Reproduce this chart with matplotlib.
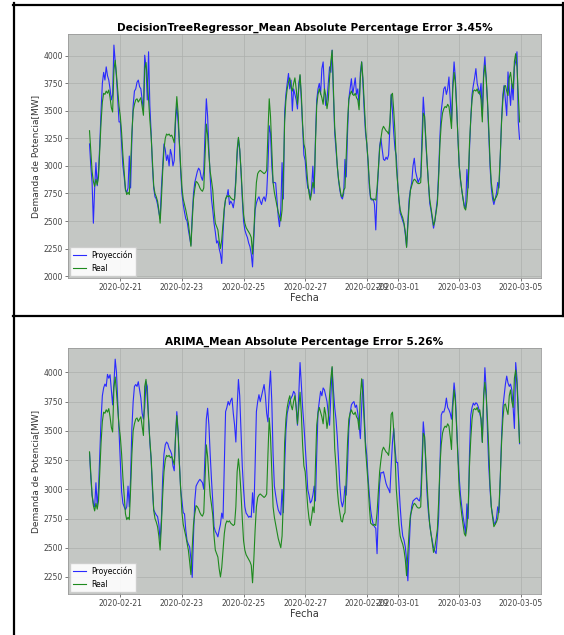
import matplotlib
matplotlib.use('Agg')
import matplotlib.pyplot as plt
import matplotlib.dates as mdates
from matplotlib.lines import Line2D
from matplotlib.ticker import MultipleLocator
import pandas as pd

# datos horarios desde el 2020-02-20 00:00 (una fila por dia)
inicio = '2020-02-20 00:00'

real = [
    3320, 3130, 2950, 2860, 2815, 2880, 2830, 2900, 3150, 3400, 3580, 3660, 3650, 3680, 3660, 3690, 3620, 3530, 3490, 3870, 3960, 3830, 3680, 3540,
    3450, 3300, 3100, 2950, 2790, 2740, 2760, 2740, 3000, 3300, 3500, 3560, 3600, 3610, 3580, 3600, 3620, 3540, 3460, 3880, 3940, 3780, 3600, 3420,
    3270, 3050, 2820, 2750, 2720, 2680, 2600, 2480, 2700, 2950, 3150, 3250, 3290, 3280, 3290, 3270, 3280, 3250, 3210, 3450, 3630, 3480, 3220, 3000,
    2800, 2700, 2650, 2600, 2540, 2480, 2380, 2270, 2500, 2700, 2790, 2860, 2850, 2830, 2800, 2780, 2770, 2800, 3100, 3380, 3280, 3100, 2950, 2870,
    2780, 2600, 2480, 2450, 2420, 2320, 2250, 2330, 2480, 2620, 2700, 2730, 2720, 2730, 2710, 2700, 2690, 2700, 2850, 3150, 3260, 3150, 2970, 2750,
    2560, 2480, 2440, 2420, 2400, 2380, 2350, 2200, 2400, 2650, 2850, 2930, 2950, 2960, 2950, 2940, 2930, 2940, 2960, 3300, 3610, 3450, 3150, 2850,
    2760, 2700, 2640, 2580, 2540, 2500, 2600, 2900, 3400, 3600, 3700, 3760, 3800, 3720, 3680, 3750, 3800, 3700, 3560, 3700, 3830, 3650, 3380, 3200,
    3150, 3000, 2850, 2750, 2690, 2760, 2850, 2800, 3200, 3550, 3650, 3700, 3660, 3620, 3560, 3700, 3640, 3520, 3600, 3800, 3950, 4050, 3700, 3350,
    3200, 3000, 2880, 2800, 2730, 2720, 2780, 2800, 3100, 3400, 3600, 3650, 3680, 3650, 3640, 3660, 3620, 3600, 3510, 3800, 3945, 3800, 3580, 3350,
    3200, 3050, 2850, 2710, 2700, 2690, 2700, 2690, 2800, 2980, 3150, 3250, 3330, 3360, 3340, 3320, 3310, 3290, 3400, 3640, 3660, 3500, 3300, 3000,
    2850, 2700, 2600, 2560, 2530, 2480, 2400, 2260, 2450, 2650, 2780, 2820, 2860, 2880, 2870, 2850, 2840, 2840, 2850, 3150, 3480, 3450, 3250, 3030,
    2850, 2700, 2620, 2540, 2460, 2500, 2580, 2660, 2900, 3200, 3380, 3480, 3520, 3540, 3530, 3560, 3540, 3450, 3340, 3700, 3850, 3750, 3520, 3250,
    3000, 2880, 2780, 2700, 2620, 2600, 2680, 2850, 3200, 3430, 3600, 3680, 3690, 3680, 3700, 3660, 3680, 3600, 3400, 3800, 3915, 3800, 3600, 3350,
    3050, 2850, 2760, 2680, 2700, 2720, 2750, 2850, 3100, 3400, 3600, 3720, 3730, 3680, 3640, 3800, 3850, 3750, 3700, 3950, 4020, 3900, 3650, 3400,
]

proy_arbol = [
    3200, 3000, 2850, 2480, 2800, 3030, 2820, 2950, 3200, 3500, 3750, 3850, 3780, 3900, 3820, 3780, 3700, 3600, 3650, 4098, 3950, 3800, 3600, 3400,
    3400, 3200, 3000, 2900, 2780, 2760, 2800, 3090, 2800, 3250, 3550, 3680, 3700, 3760, 3780, 3720, 3700, 3600, 3500, 4006, 3900, 3600, 4037, 3548,
    3300, 3000, 2800, 2720, 2700, 2650, 2580, 2520, 2800, 3000, 3200, 3150, 3050, 3100, 3000, 3150, 3100, 3000, 3050, 3400, 3548, 3400, 3200, 2950,
    2750, 2650, 2580, 2520, 2500, 2420, 2350, 2280, 2550, 2750, 2850, 2900, 2950, 2980, 2960, 2900, 2870, 2950, 3300, 3610, 3450, 3150, 2900, 2700,
    2600, 2480, 2400, 2300, 2320, 2250, 2200, 2114, 2400, 2600, 2700, 2720, 2785, 2650, 2680, 2660, 2620, 2700, 2900, 3100, 3250, 3150, 2950, 2700,
    2500, 2420, 2380, 2350, 2300, 2266, 2200, 2083, 2350, 2600, 2663, 2700, 2720, 2680, 2650, 2700, 2720, 2680, 2750, 3000, 3365, 3300, 3000, 2846,
    2850, 2846, 2700, 2541, 2449, 2600, 3030, 2700, 3487, 3650, 3750, 3840, 3700, 3780, 3500, 3700, 3650, 3600, 3518, 3750, 3820, 3600, 3350, 3100,
    3050, 2900, 2800, 2785, 2700, 2800, 2998, 2750, 3250, 3600, 3700, 3750, 3650, 3884, 3945, 3700, 3550, 3600, 3750, 3900, 3850, 4052, 3650, 3300,
    3150, 3000, 2870, 2780, 2720, 2700, 2750, 3060, 2900, 3300, 3610, 3700, 3792, 3650, 3720, 3800, 3650, 3700, 3550, 3850, 3945, 3750, 3500, 3300,
    3200, 3030, 2800, 2700, 2690, 2700, 2650, 2419, 2750, 2950, 3182, 3250, 3150, 3060, 3050, 3080, 3060, 3100, 3350, 3650, 3500, 3300, 3150, 3090,
    2850, 2700, 2571, 2540, 2500, 2470, 2380, 2266, 2500, 2700, 2785, 2850, 3000, 3070, 2950, 2900, 2850, 2880, 2900, 3250, 3625, 3450, 3200, 3030,
    2850, 2663, 2600, 2520, 2435, 2500, 2600, 2700, 2950, 3274, 3500, 3600, 3700, 3720, 3650, 3700, 3808, 3600, 3400, 3750, 3945, 3800, 3550, 3250,
    3000, 2870, 2780, 2700, 2640, 2620, 2968, 2800, 3150, 3426, 3650, 3732, 3800, 3884, 3750, 3700, 3650, 3750, 3450, 3850, 3991, 3800, 3580, 3300,
    3000, 2800, 2700, 2650, 2700, 2750, 2850, 2800, 3090, 3426, 3650, 3732, 3600, 3457, 3854, 3700, 3550, 3750, 3600, 3900, 3950, 4037, 3400, 3243,
]

proy_arima = [
    3310, 3100, 2950, 2880, 2850, 3056, 2860, 3000, 3300, 3600, 3800, 3867, 3900, 3880, 3983, 3950, 3980, 3850, 3722, 3900, 4113, 4000, 3750, 3500,
    3250, 2980, 2880, 2850, 2825, 2850, 3027, 2850, 3100, 3520, 3750, 3880, 3896, 3880, 3920, 3850, 3780, 3650, 3600, 3700, 3920, 3880, 3600, 3400,
    3250, 3000, 2825, 2800, 2780, 2767, 2700, 2565, 2750, 3100, 3300, 3380, 3404, 3390, 3350, 3330, 3300, 3200, 3158, 3450, 3664, 3500, 3230, 3000,
    2900, 2800, 2790, 2650, 2560, 2530, 2507, 2400, 2246, 2600, 2900, 3027, 3050, 3070, 3085, 3070, 3056, 3000, 3300, 3600, 3693, 3550, 3300, 3085,
    2900, 2680, 2640, 2620, 2593, 2650, 2700, 2796, 2750, 3200, 3664, 3700, 3751, 3720, 3760, 3780, 3650, 3550, 3404, 3700, 3939, 3800, 3500, 3200,
    3000, 2850, 2796, 2780, 2760, 2770, 2760, 2970, 2800, 3200, 3664, 3750, 3809, 3750, 3800, 3850, 3896, 3800, 3650, 3577, 3850, 4011, 3750, 3300,
    3027, 2950, 2880, 2825, 2800, 2780, 2999, 2800, 3200, 3500, 3650, 3700, 3750, 3780, 3800, 3838, 3820, 3700, 3548, 3800, 4084, 3900, 3700, 3550,
    3375, 3200, 2999, 2950, 2883, 2900, 2950, 3027, 2900, 3300, 3664, 3750, 3838, 3800, 3867, 3850, 3800, 3750, 3650, 3548, 3800, 4040, 3850, 3700,
    3600, 3450, 3250, 3030, 2900, 2850, 2900, 3027, 2950, 3200, 3520, 3650, 3722, 3740, 3750, 3700, 3720, 3650, 3550, 3433, 3700, 3939, 3650, 3400,
    3288, 3100, 2950, 2825, 2750, 2700, 2680, 2666, 2449, 2800, 3050, 3143, 3140, 3150, 3100, 3050, 3020, 3000, 2970, 3200, 3400, 3520, 3350, 3230,
    3230, 3050, 2854, 2700, 2600, 2565, 2507, 2400, 2217, 2500, 2750, 2854, 2900, 2910, 2920, 2926, 2910, 2900, 2950, 3250, 3577, 3450, 3200, 2950,
    2800, 2700, 2620, 2560, 2500, 2470, 2450, 2600, 2767, 3200, 3635, 3664, 3660, 3700, 3780, 3700, 3680, 3650, 3600, 3750, 3910, 3800, 3550, 3300,
    3100, 2950, 2850, 2767, 2700, 2620, 2875, 2750, 3300, 3635, 3700, 3737, 3720, 3740, 3730, 3700, 3650, 3600, 3404, 3750, 4040, 3850, 3500, 3200,
    3000, 2850, 2780, 2720, 2700, 2750, 2850, 2800, 3100, 3450, 3700, 3800, 3900, 3968, 3910, 3880, 3900, 3850, 3700, 3520, 4084, 3950, 3700, 3390,
]

titulos = ['DecisionTreeRegressor_Mean Absolute Percentage Error 3.45%',
           'ARIMA_Mean Absolute Percentage Error 5.26%']

fechas = pd.date_range(inicio, periods=len(real), freq='h')

fig = plt.figure(figsize=(5.64, 6.35), dpi=100)
ax1 = fig.add_axes([0.1206, 0.5622, 0.8387, 0.3843])
ax2 = fig.add_axes([0.1206, 0.0646, 0.8387, 0.3874])

for ax, proy, titulo in [(ax1, proy_arbol, titulos[0]), (ax2, proy_arima, titulos[1])]:
    ax.set_facecolor('#c4c7c4')
    ax.plot(fechas, proy, color='#2a2aff', lw=0.8, label='Proyección')
    ax.plot(fechas, real, color='#1e8a1e', lw=0.8, label='Real')
    ax.set_title(titulo, fontsize=7.6, fontweight='bold', pad=2.5)
    ax.set_xlabel('Fecha', fontsize=7, labelpad=0.5, color='#333333')
    ax.set_ylabel('Demanda de Potencia[MW]', fontsize=6.5, labelpad=2.5, color='#333333')
    ax.xaxis.set_major_locator(mdates.DayLocator(bymonthday=range(1, 32, 2)))
    ax.xaxis.set_major_formatter(mdates.DateFormatter('%Y-%m-%d'))
    ax.yaxis.set_major_locator(MultipleLocator(250))
    ax.tick_params(labelsize=5.5, length=2, width=0.5, pad=1.5, colors='#444444')
    ax.grid(True, color='#acafac', lw=0.5)
    for s in ax.spines.values():
        s.set_color('#9a9a9a')
        s.set_linewidth(0.6)
    ax.legend(loc='lower left', fontsize=5.5, handlelength=1.6, borderaxespad=0.3,
              framealpha=0.9, edgecolor='#cccccc', fancybox=False)

# marco de la tabla
negro = dict(color='black', lw=1.6, transform=fig.transFigure)
fig.add_artist(Line2D([14 / 564, 14 / 564], [0, 1 - 3 / 635], **negro))
fig.add_artist(Line2D([13 / 564, 1], [1 - 4.5 / 635, 1 - 4.5 / 635], **negro))
fig.add_artist(Line2D([13 / 564, 1], [1 - 316 / 635, 1 - 316 / 635], **negro))
fig.add_artist(Line2D([562.5 / 564, 562.5 / 564], [1 - 316 / 635, 1 - 3 / 635], **negro))

fig.savefig('out.png', dpi=100)
